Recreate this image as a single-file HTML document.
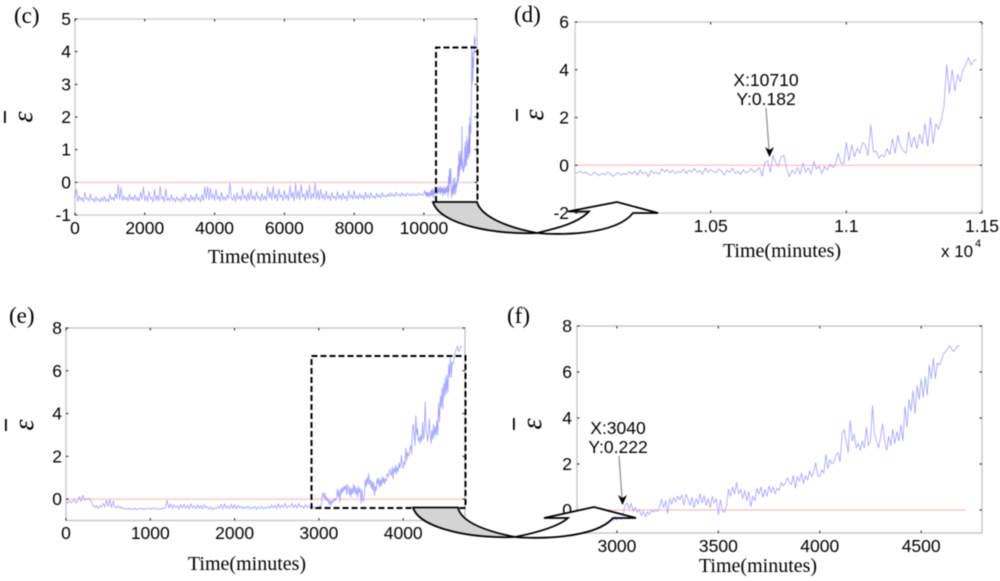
<!DOCTYPE html>
<html lang="en">
<head>
<meta charset="utf-8">
<title>Mean error over time, panels c to f</title>
<style>
html,body{margin:0;padding:0;background:#fff;width:1000px;height:581px;overflow:hidden}
svg{display:block;filter:blur(0.45px)}
.tick{font:17.5px "Liberation Sans",sans-serif;fill:#000}
.xlabel{font:20px "Liberation Serif",serif;fill:#000;text-anchor:middle}
.panel{font:23px "Liberation Serif",serif;fill:#000}
.eps{font:italic 28px "Liberation Serif",serif;fill:#000;text-anchor:middle}
.note{font:17.5px "Liberation Sans",sans-serif;fill:#000;text-anchor:middle}
</style>
</head>
<body>
<svg id="chart" width="1000" height="581" viewBox="0 0 1000 581" xmlns="http://www.w3.org/2000/svg">
  <g id="under"></g>
  <path d="M436,202V47.5H477.5V202" fill="none" stroke="#000" stroke-width="2" stroke-dasharray="6 3"/>
  <rect x="311.5" y="356" width="154" height="152" fill="none" stroke="#000" stroke-width="2" stroke-dasharray="6 3"/>
  <g stroke="#000" stroke-width="1.8" stroke-linejoin="miter">
    <path fill="#d4d4d4" d="M433,202H477C481,216 505,227 537,233C500,235 440,226 433,202Z"/>
    <path fill="#fff" d="M537,233C555,235 615,236 633,213H658L617,202L568,211.5H589C578,223 558,228 537,233Z"/>
  </g>
  <g stroke="#000" stroke-width="1.8" stroke-linejoin="miter">
    <path fill="#d4d4d4" d="M413,507.5H458C461,522 485,531 515,537C478,539 420,530 413,507.5Z"/>
    <path fill="#fff" d="M515,537C535,539 595,539 613,518H636L594,507L544,518H568C558,527 535,533 515,537Z"/>
  </g>
  <g id="over"></g>
  <g>
    <text class="note" x="766" y="86">X:10710</text>
    <text class="note" x="766" y="105">Y:0.182</text>
    <line x1="766" y1="108" x2="769" y2="150" stroke="#777" stroke-width="1"/>
    <path d="M765,147L769.5,150L774,147L769.5,157Z" fill="#000"/>
  </g>
  <g>
    <text class="note" x="618" y="434">X:3040</text>
    <text class="note" x="618" y="453">Y:0.222</text>
    <line x1="619" y1="456" x2="622" y2="498" stroke="#777" stroke-width="1"/>
    <path d="M618,495L622.5,498L627,495L622.5,505Z" fill="#000"/>
  </g>
  <g>
    <text class="tick" x="941" y="257" style="font-size:17px">x 10</text>
    <text class="tick" x="975" y="247" style="font-size:11px">4</text>
  </g>
</svg>
<script>
// Panel (c): sampled early series, every 40 minutes from 0 to 9960
const cEarlyValues = [
-0.5,-0.2,-0.58,-0.42,-0.55,-0.46,-0.6,-0.3,-0.52,-0.48,-0.58,-0.36,-0.55,-0.5,-0.6,-0.44,-0.56,-0.5,-0.6,-0.46,-0.58,-0.42,-0.58,-0.5,-0.6,
-0.36,-0.54,-0.46,-0.56,-0.34,-0.5,-0.06,-0.52,-0.16,-0.56,-0.42,-0.54,-0.46,-0.58,-0.36,-0.54,-0.44,-0.56,-0.38,-0.56,-0.46,-0.58,-0.3,-0.52,-0.14,
-0.56,-0.42,-0.58,-0.28,-0.52,-0.46,-0.6,-0.22,-0.55,-0.4,-0.58,-0.12,-0.52,-0.44,-0.6,-0.2,-0.56,-0.48,-0.58,-0.38,-0.56,-0.48,-0.6,-0.44,-0.56,
-0.5,-0.6,-0.44,-0.56,-0.34,-0.54,-0.48,-0.6,-0.38,-0.55,-0.44,-0.58,-0.34,-0.54,-0.46,-0.6,-0.38,-0.56,-0.14,-0.5,-0.12,-0.54,-0.18,-0.5,-0.36,
-0.56,-0.22,-0.52,-0.42,-0.58,-0.3,-0.54,-0.44,-0.56,-0.38,-0.5,-0.02,-0.48,-0.55,-0.38,-0.58,-0.32,-0.52,-0.42,-0.56,-0.16,-0.5,-0.4,-0.58,-0.32,
-0.54,-0.2,-0.52,-0.4,-0.56,-0.28,-0.5,-0.44,-0.58,-0.34,-0.54,-0.42,-0.56,-0.14,-0.48,-0.28,-0.54,-0.12,-0.5,-0.36,-0.58,-0.2,-0.46,-0.38,-0.56,
-0.24,-0.5,-0.38,-0.56,-0.1,-0.48,-0.3,-0.58,-0.03,-0.5,-0.26,-0.55,-0.06,-0.46,-0.36,-0.56,-0.24,-0.5,-0.08,-0.52,-0.34,-0.48,-0.02,-0.52,-0.26,
-0.54,-0.2,-0.5,-0.36,-0.55,-0.26,-0.5,-0.4,-0.56,-0.3,-0.48,-0.42,-0.55,-0.28,-0.5,-0.38,-0.54,-0.32,-0.5,-0.42,-0.56,-0.26,-0.48,-0.38,-0.52,
-0.26,-0.5,-0.4,-0.52,-0.34,-0.48,-0.4,-0.54,-0.3,-0.48,-0.38,-0.5,-0.32,-0.46,-0.42,-0.5,-0.34,-0.46,-0.38,-0.48,-0.32,-0.44,-0.4,-0.46,-0.36,
-0.44,-0.32,-0.42,-0.36,-0.44,-0.3,-0.4,-0.36,-0.44,-0.32,-0.42,-0.36,-0.43,-0.33,-0.4,-0.36,-0.42,-0.34,-0.4,-0.36,-0.41,-0.33,-0.39,-0.36,-0.4
];
const cEarlyStep = 40;

// Panel (d): zoomed series, every 10 minutes from 10000
const dValues = [
-0.35,-0.3,-0.25,-0.33,-0.28,-0.38,-0.42,-0.3,-0.36,-0.44,-0.33,-0.4,-0.3,-0.36,-0.46,-0.38,-0.3,-0.42,-0.34,-0.4,-0.26,-0.38,-0.24,-0.42,-0.2,-0.36,-0.28,-0.48,-0.22,-0.34,
-0.3,-0.38,-0.14,-0.28,-0.18,-0.32,-0.2,-0.36,-0.26,-0.3,-0.16,-0.34,-0.2,-0.28,-0.14,-0.3,-0.22,-0.38,-0.12,-0.3,-0.18,-0.26,-0.32,-0.16,-0.24,-0.42,-0.2,-0.3,-0.12,-0.34,
-0.26,-0.38,-0.18,-0.32,-0.26,-0.14,-0.3,-0.2,-0.1,-0.46,
0.12,0.18,-0.3,0.42,0.1,-0.05,0.35,0.42,-0.15,-0.48,-0.2,-0.35,-0.1,-0.38,0.1,-0.3,-0.1,-0.38,0.15,-0.15,-0.05,-0.35,-0.05,-0.2,0.05,-0.1,0.02,0.5,0.1,0.05,
0.95,0.2,0.85,0.35,0.7,0.5,0.95,0.85,0.4,1.7,0.55,0.6,0.3,0.45,0.35,0.7,0.45,1.1,0.5,1.25,0.8,0.6,0.5,1.4,0.75,1.2,0.7,1.3,0.9,1.75,
0.8,2.0,0.9,1.75,1.5,1.9,2.5,4.2,3.0,4.0,3.1,3.8,3.5,4.0,4.2,4.5,4.2,4.4,4.4
];
const dStart = 10000;
const dStep = 10;

// Panel (e): early series, every 20 minutes from 0 to 2900
const eEarlyValues = [
-0.1,-0.2,-0.08,-0.18,-0.1,-0.02,-0.2,-0.08,0.12,-0.1,0.18,-0.05,0.02,-0.02,0.04,
-0.12,-0.28,-0.4,-0.3,-0.44,-0.3,-0.38,-0.2,-0.36,-0.05,-0.34,-0.02,-0.4,-0.08,-0.38,
-0.42,-0.3,-0.44,-0.36,-0.46,-0.44,-0.48,-0.42,-0.5,-0.44,-0.48,-0.42,-0.5,-0.44,-0.46,-0.42,-0.5,-0.44,-0.46,-0.42,
-0.48,-0.42,-0.46,-0.4,-0.5,-0.44,-0.48,-0.42,-0.46,-0.38,
-0.06,-0.42,-0.22,-0.44,-0.26,-0.4,-0.3,-0.46,-0.26,-0.42,-0.24,-0.44,-0.28,-0.46,-0.22,-0.42,-0.3,-0.46,-0.26,-0.44,
-0.3,-0.46,-0.26,-0.42,-0.34,-0.48,-0.36,-0.5,-0.4,-0.46,-0.34,-0.44,-0.24,-0.46,-0.22,-0.44,-0.3,-0.46,-0.24,-0.44,
-0.26,-0.46,-0.28,-0.42,-0.34,-0.46,-0.36,-0.44,-0.32,-0.46,-0.38,-0.44,-0.34,-0.48,-0.36,-0.44,-0.32,-0.46,-0.38,-0.44,
-0.34,-0.44,-0.28,-0.42,-0.3,-0.44,-0.22,-0.42,-0.28,-0.4,-0.2,-0.42,-0.3,-0.38,-0.2,-0.4,-0.26,-0.42,-0.2,-0.38,-0.3,-0.44,-0.26,-0.4,-0.3,-0.44
];
const eEarlyStep = 20;

// Panel (f): zoomed series, every 10 minutes from 2930
const fValues = [
-0.35,-0.42,-0.38,-0.45,-0.4,-0.46,-0.38,-0.44,-0.3,-0.42,-0.2,
0.22,0.3,0.05,0.28,-0.05,0.12,-0.1,0.02,-0.25,-0.05,-0.3,-0.08,-0.2,0,-0.1,0.02,-0.05,0.12,0.48,0.1,0.4,-0.15,0.5,0.25,0.55,0.35,0.6,0.45,0.65,0.2,0.68,0.5,0.2,0.55,0.1,0.5,0.25,0.7,0.3,0.62,0.2,0.5,0.1,0.6,0.3,0.5,
-0.2,0.45,-0.05,-0.1,0.2,0.9,0.6,1.0,0.7,1.2,0.7,0.9,0.5,0.85,0.4,0.8,0.15,0.6,0.4,0.95,0.7,1.0,0.55,0.9,0.6,1.05,0.75,1.0,0.7,0.95,0.85,1.2,1.05,1.15,1.4,1.2,1.1,1.5,0.95,1.45,1.25,1.6,1.15,1.5,1.3,1.7,1.45,1.65,2.05,1.5,
1.45,1.75,1.6,2.4,1.8,2.2,2.0,2.1,2.4,2.5,2.1,3.3,3.5,3.0,2.5,3.9,3.0,3.3,2.7,2.9,2.6,3.0,2.7,3.6,2.8,3.0,4.55,3.3,3.0,2.7,3.2,3.75,3.0,2.6,3.2,2.8,3.5,2.9,3.4,3.0,3.7,3.0,4.5,3.6,4.8,4.3,5.2,4.2,5.4,4.8,
5.7,4.9,5.8,5.0,6.3,5.7,6.6,5.7,6.4,6.3,6.5,6.8,6.9,7.0,7.15,7.0,6.9,7.0,7.15,7.1
];
const fStart = 2930;
const fStep = 10;

// Tick values and printed labels
const cXTicks = [0,2000,4000,6000,8000,10000];
const cXLabels = ["0","2000","4000","6000","8000","10000"];
const cYTicks = [-1,0,1,2,3,4,5];
const cYLabels = ["-1","0","1","2","3","4","5"];
const dXTicks = [10500,11000,11500];
const dXLabels = ["1.05","1.1","1.15"];
const dYTicks = [-2,0,2,4,6];
const dYLabels = ["-2","0","2","4","6"];
const eXTicks = [0,1000,2000,3000,4000];
const eXLabels = ["0","1000","2000","3000","4000"];
const eYTicks = [0,2,4,6,8];
const eYLabels = ["0","2","4","6","8"];
const fXTicks = [3000,3500,4000,4500];
const fXLabels = ["3000","3500","4000","4500"];
const fYTicks = [0,2,4,6,8];
const fYLabels = ["0","2","4","6","8"];
const panelNames = ["(c)","(d)","(e)","(f)"];
const xAxisTitle = "Time(minutes)";

const NS = "http://www.w3.org/2000/svg";
const under = document.getElementById("under");
const over = document.getElementById("over");

function seriesFrom(start, step, values) {
  return values.map(function (v, i) { return [start + i * step, v]; });
}
function make(tag, attrs, parent, text) {
  const node = document.createElementNS(NS, tag);
  Object.keys(attrs).forEach(function (k) { node.setAttribute(k, attrs[k]); });
  if (text !== undefined) node.textContent = text;
  parent.appendChild(node);
  return node;
}

function drawPanel(p) {
  const sx = function (t) { return p.left + (t - p.x0) * (p.right - p.left) / (p.x1 - p.x0); };
  const sy = function (v) { return p.bottom - (v - p.y0) * (p.bottom - p.top) / (p.y1 - p.y0); };
  const g = make("g", {}, under);
  
  
  const labelHost = p.labelsOver ? over : g;

  const frame = make("rect", { x: p.left, y: p.top, width: p.right - p.left, height: p.bottom - p.top, fill: "none", stroke: "#c6c6c6", "stroke-width": p.frameWidth }, g);
  
  

  const zero = make("line", { x1: sx(p.redFrom), x2: sx(p.redTo), y1: sy(0), y2: sy(0), stroke: p.redColor, "stroke-width": p.redWidth }, g);
  
  

  const pts = p.series.filter(function (d) { return d[0] >= p.x0; });
  const line = make("polyline", { points: pts.map(function (d) { return sx(d[0]).toFixed(2) + "," + sy(d[1]).toFixed(2); }).join(" "), fill: "none", stroke: "#a0a0ff", "stroke-width": 0.8, "stroke-linejoin": "round" }, g);
  
  

  p.xTicks.forEach(function (t, i) {
    const x = sx(t);
    const tb = make("path", { d: "M" + x + "," + p.bottom + "v-2.5M" + x + "," + p.top + "v2.5", stroke: "#222", "stroke-width": 1 }, g);
    
    
    const lab = make("text", { class: "tick", x: x, y: p.xLabelY, "text-anchor": "middle" }, g, p.xLabels[i]);
    
    
  });
  p.yTicks.forEach(function (v, i) {
    const y = sy(v);
    const tb = make("path", { d: "M" + p.left + "," + y + "h2.5M" + p.right + "," + y + "h-2.5", stroke: "#222", "stroke-width": 1 }, g);
    
    
    const lab = make("text", { class: "tick", x: p.yLabelX, y: y + 6, "text-anchor": "end" }, labelHost, p.yLabels[i]);
    
    
  });

  const title = make("text", { class: "xlabel", x: p.titleX, y: p.titleY }, g, xAxisTitle);
  
  

  const bar = make("rect", { x: p.barX, y: p.epsY - 6, width: 1.8, height: 12, fill: "#000" }, g);
  
  
  const eps = make("text", { class: "eps", x: 0, y: 0, transform: "translate(" + p.epsX + "," + p.epsY + ") rotate(-90)" }, g, "ε");
  
  

  const tag = make("text", { class: "panel", x: p.tagX, y: p.tagY }, g, p.tag);
  
  
}

drawPanel({ id: "c", tag: panelNames[0], left: 75, right: 477, top: 19, bottom: 215, x0: 0, x1: 11520, y0: -1, y1: 5, frameWidth: 1.2,
  series: seriesFrom(0, cEarlyStep, cEarlyValues).concat(seriesFrom(dStart, dStep, dValues)),
  redFrom: 0, redTo: 11480, redColor: "#ffb4b4", redWidth: 1,
  xTicks: cXTicks, xLabels: cXLabels, yTicks: cYTicks, yLabels: cYLabels,
  xLabelY: 234, yLabelX: 71, titleX: 267, titleY: 263, barX: 4, epsX: 32, epsY: 117, tagX: 14, tagY: 23 });
drawPanel({ id: "d", tag: panelNames[1], left: 575, right: 982, top: 22, bottom: 213, x0: 10000, x1: 11500, y0: -2, y1: 6, frameWidth: 1.2,
  series: seriesFrom(dStart, dStep, dValues),
  redFrom: 10000, redTo: 11490, redColor: "#ffb4b4", redWidth: 1,
  xTicks: dXTicks, xLabels: dXLabels, yTicks: dYTicks, yLabels: dYLabels, labelsOver: true,
  xLabelY: 232, yLabelX: 569, titleX: 782, titleY: 257, barX: 516, epsX: 543, epsY: 115, tagX: 514, tagY: 22 });
drawPanel({ id: "e", tag: panelNames[2], left: 66, right: 465, top: 328, bottom: 520.5, x0: 0, x1: 4733, y0: -1, y1: 8, frameWidth: 1.4,
  series: seriesFrom(0, eEarlyStep, eEarlyValues).concat(seriesFrom(fStart, fStep, fValues)),
  redFrom: 0, redTo: 4710, redColor: "#ffd6d6", redWidth: 2,
  xTicks: eXTicks, xLabels: eXLabels, yTicks: eYTicks, yLabels: eYLabels,
  xLabelY: 539, yLabelX: 62, titleX: 247, titleY: 570, barX: 5, epsX: 33, epsY: 425, tagX: 9, tagY: 323 });
drawPanel({ id: "f", tag: panelNames[3], left: 577, right: 982, top: 326, bottom: 533, x0: 2803, x1: 4800, y0: -1, y1: 8, frameWidth: 1.4,
  series: seriesFrom(fStart, fStep, fValues),
  redFrom: 2930, redTo: 4720, redColor: "#ffb4b4", redWidth: 1,
  xTicks: fXTicks, xLabels: fXLabels, yTicks: fYTicks, yLabels: fYLabels,
  xLabelY: 552, yLabelX: 572, titleX: 758, titleY: 572, barX: 513, epsX: 541, epsY: 424, tagX: 507, tagY: 323 });
</script>
</body>
</html>
